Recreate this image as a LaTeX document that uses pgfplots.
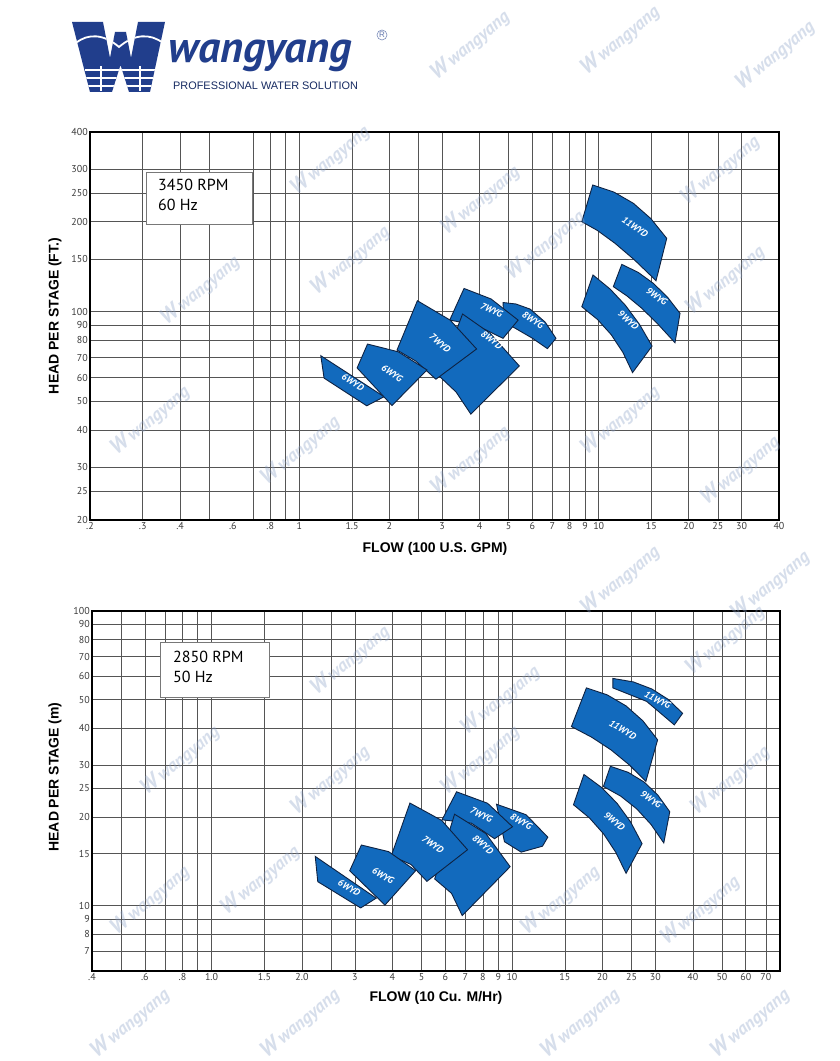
\documentclass[border=0pt]{standalone}
\usepackage{fontspec}
\setmainfont{PT Sans}
\newfontfamily\arialf{Liberation Sans}
\usepackage{pgfplots}
\pgfplotsset{compat=1.18}

\definecolor{wyblue}{RGB}{18,106,189}
\definecolor{wyedge}{RGB}{14,34,66}
\definecolor{navy}{RGB}{33,62,140}
\definecolor{gridc}{RGB}{85,85,85}
\definecolor{tickc}{RGB}{60,60,60}
\definecolor{wmark}{RGB}{140,162,200}
\definecolor{boxc}{RGB}{120,120,120}

\tikzset{
  zone/.style={fill=wyblue, draw=wyedge, line width=0.9pt},
  lbl/.style={text=white, font=\bfseries\itshape\fontsize{9.5}{10}\selectfont, inner sep=0pt},
  ttl/.style={font=\arialf\bfseries\fontsize{14}{14}\selectfont, inner sep=0pt},
}

\begin{document}
\begin{tikzpicture}[x=1pt,y=1pt]
\path[use as bounding box, fill=white] (0,0) rectangle (840,1061);
\clip (0,0) rectangle (840,1061);

% ---------- logo ----------
\begin{scope}
\path[fill=navy] (72,1039) -- (103,1039) -- (110,1003) -- (115,1029) -- (126,1029)
  -- (131,1003) -- (138,1039) -- (165,1039) -- (150,969) -- (129,969) -- (120.5,996)
  -- (112,969) -- (90,969) -- cycle;
\clip (72,1039) -- (103,1039) -- (110,1003) -- (115,1029) -- (126,1029)
  -- (131,1003) -- (138,1039) -- (165,1039) -- (150,969) -- (129,969) -- (120.5,996)
  -- (112,969) -- (90,969) -- cycle;
\draw[white, line width=1.8pt] (76,1018) .. controls (88,1028) and (104,1027) .. (119,1014)
  .. controls (134,1027) and (150,1028) .. (163,1018);
\foreach \yy in {991,983,975} \draw[white, line width=1.3pt] (85,\yy) -- (158,\yy);
\draw[white, line width=1.3pt] (101,995) -- (101,970);
\draw[white, line width=1.3pt] (140,995) -- (140,970);
\end{scope}
\node[anchor=base west, inner sep=0pt, text=navy,
  font=\bfseries\itshape\fontsize{44}{44}\selectfont] at (168,998) {wangyang};
\node[anchor=base west, inner sep=0pt, text=navy!70!black,
  font=\arialf\fontsize{10.9}{11}\selectfont] at (173,971) {PROFESSIONAL WATER SOLUTION};
\draw[navy!60, line width=0.6pt] (382,1026) circle (5);
\node[text=navy!70, font=\arialf\fontsize{8}{8}\selectfont, inner sep=0pt] at (382,1026) {R};

% ---------- 3450 RPM ----------
\begin{axis}[at={(90pt,541pt)}, anchor=south west, scale only axis,
  width=689pt, height=388pt, xmode=log, ymode=log, clip=false,
  axis line style={black, line width=1.1pt},
  xmajorgrids=true, ymajorgrids=true, xminorgrids=true,
  major grid style={gridc, line width=0.7pt},
  minor grid style={gridc, line width=0.7pt},
  tick style={draw=none},
  tick label style={font=\fontsize{10}{12}\selectfont, text=tickc},
  xticklabel style={inner sep=2pt}, yticklabel style={inner sep=2pt},
  xmin=0.2, xmax=40, ymin=20, ymax=400,
  xtick={0.2,0.3,0.4,0.8,1,1.5,2,3,4,5,6,7,8,9,10,15,20,25,30,40},
  xticklabels={.2,.3,.4,.8,1,1.5,2,3,4,5,6,7,8,9,10,15,20,25,30,40},
  minor xtick={0.5,0.7,0.9,2.5},
  ytick={20,25,30,40,50,60,70,80,90,100,150,200,250,300,400},
  yticklabels={20,25,30,40,50,60,70,80,90,100,150,200,250,300,400},
]
\addplot[zone] coordinates {(4.79,107.2) (5.29,106.0) (5.90,101.9) (6.62,92.2) (7.20,81.3) (6.74,75.1) (5.99,81.5) (5.25,88.0) (4.83,92.3)} -- cycle;
\addplot[zone] coordinates {(3.55,119.5) (4.37,110.2) (5.38,93.6) (4.79,81.3) (3.89,90.1) (3.18,93.6)} -- cycle;
\addplot[zone] coordinates {(3.51,98.1) (4.34,84.5) (5.43,65.7) (3.74,45.3) (3.34,53.7) (2.93,60.8)} -- cycle;
\addplot[zone] coordinates {(2.48,108.7) (3.19,93.6) (3.91,74.9) (2.86,59.3) (2.45,68.2) (2.12,74.3)} -- cycle;
\addplot[zone] coordinates {(1.18,71.1) (1.21,59.8) (1.68,48.3) (1.92,51.8)} -- cycle;
\addplot[zone] coordinates {(1.69,77.8) (2.14,73.3) (2.67,63.7) (2.04,48.4) (1.56,64.7)} -- cycle;
\addplot[zone] coordinates {(9.55,265.7) (11.24,251.5) (13.05,230.7) (14.94,204.8) (16.87,176.0)
  (15.54,126.9) (13.17,148.9) (11.34,169.3) (9.90,187.0) (8.78,200.1)} -- cycle;
\addplot[zone] coordinates {(11.94,143.9) (13.55,135.3) (15.22,124.3) (16.95,111.9) (18.69,98.6)
  (17.98,78.6) (15.74,90.9) (13.92,102.6) (12.41,112.9) (11.19,121.2)} -- cycle;
\addplot[zone] coordinates {(9.57,132.6) (10.91,119.0) (12.29,104.8) (13.69,90.5) (15.07,76.6)
  (12.97,62.4) (12.04,73.0) (11.00,83.7) (9.90,94.1) (8.78,103.8)} -- cycle;
\node[lbl, rotate=-32] at (axis cs:1.51,58.0) {6WYD};
\node[lbl, rotate=-35] at (axis cs:2.04,62.2) {6WYG};
\node[lbl, rotate=-40] at (axis cs:2.95,78.4) {7WYD};
\node[lbl, rotate=-38] at (axis cs:4.39,80.3) {8WYD};
\node[lbl, rotate=-25] at (axis cs:4.39,101.2) {7WYG};
\node[lbl, rotate=-32] at (axis cs:6.03,93.6) {8WYG};
\node[lbl, rotate=-35] at (axis cs:13.22,192.5) {11WYD};
\node[lbl, rotate=-35] at (axis cs:15.62,112.1) {9WYG};
\node[lbl, rotate=-42] at (axis cs:12.56,93.6) {9WYD};
% tick label with no grid line in the original
\node[anchor=north, inner sep=2pt, text=tickc, font=\fontsize{10}{12}\selectfont] at (axis cs:0.6,20) {.6};
\end{axis}

% ---------- 2850 RPM ----------
\begin{axis}[at={(92pt,90pt)}, anchor=south west, scale only axis,
  width=688pt, height=360pt, xmode=log, ymode=log,
  axis line style={black, line width=1.1pt},
  xmajorgrids=true, ymajorgrids=true, xminorgrids=true,
  major grid style={gridc, line width=0.7pt},
  minor grid style={gridc, line width=0.7pt},
  tick style={draw=none},
  tick label style={font=\fontsize{10}{12}\selectfont, text=tickc},
  xticklabel style={inner sep=2pt}, yticklabel style={inner sep=2pt},
  xmin=0.4, xmax=78, ymin=6, ymax=100,
  xtick={0.4,0.6,0.8,1,1.5,2,3,4,5,6,7,8,9,10,15,20,25,30,40,50,60,70},
  xticklabels={.4,.6,.8,1.0,1.5,2.0,3,4,5,6,7,8,9,10,15,20,25,30,40,50,60,70},
  minor xtick={0.5,0.7,0.9,2.5},
  ytick={7,8,9,10,15,20,25,30,40,50,60,70,80,90,100},
  yticklabels={7,8,9,10,15,20,25,30,40,50,60,70,80,90,100},
]
\addplot[zone] coordinates {(8.88,22.09) (11.14,20.35) (13.16,17.07) (12.63,15.91) (10.73,15.19) (9.44,16.48)} -- cycle;
\addplot[zone] coordinates {(6.54,24.34) (8.29,22.26) (10.04,18.53) (8.75,16.87) (7.33,19.05) (5.85,19.56)} -- cycle;
\addplot[zone] coordinates {(6.44,20.43) (8.18,17.57) (9.86,13.56) (6.83,9.25) (6.29,11.01) (5.53,12.32)} -- cycle;
\addplot[zone] coordinates {(4.574,22.29) (5.838,19.46) (7.114,15.48) (5.210,12.09) (4.616,13.78) (3.967,14.78)} -- cycle;
\addplot[zone] coordinates {(2.214,14.69) (2.257,12.06) (3.136,9.82) (3.532,10.60)} -- cycle;
\addplot[zone] coordinates {(3.153,16.06) (3.886,15.25) (4.778,13.14) (3.777,10.04) (2.883,13.14)} -- cycle;
\addplot[zone] coordinates {(17.69,54.83) (20.75,51.92) (23.96,47.64) (27.27,42.39) (30.53,36.54)
  (27.90,26.39) (24.55,30.06) (21.38,33.75) (18.45,37.26) (15.77,40.53)} -- cycle;
\addplot[zone] coordinates {(21.67,59.04) (25.35,57.45) (29.18,54.39) (33.11,50.12) (36.98,44.95)
  (34.7,41.07) (28.07,49.34) (21.67,54.83)} -- cycle;
\addplot[zone] coordinates {(21.26,29.71) (24.38,28.33) (27.53,26.27) (30.6,23.71) (33.51,20.83)
  (32.01,16.32) (29.01,18.87) (25.99,21.32) (23.02,23.52) (20.15,25.37)} -- cycle;
\addplot[zone] coordinates {(17.36,27.87) (19.84,25.21) (22.35,22.28) (24.81,19.24) (27.1,16.23)
  (23.97,12.87) (22.17,15.15) (20.2,17.5) (18.13,19.82) (16.02,22.0)} -- cycle;
\node[lbl, rotate=-30] at (axis cs:2.87,11.48) {6WYD};
\node[lbl, rotate=-30] at (axis cs:3.72,12.64) {6WYG};
\node[lbl, rotate=-35] at (axis cs:5.45,16.1) {7WYD};
\node[lbl, rotate=-40] at (axis cs:8.0,16.1) {8WYD};
\node[lbl, rotate=-25] at (axis cs:7.90,20.35) {7WYG};
\node[lbl, rotate=-30] at (axis cs:10.73,19.31) {8WYG};
\node[lbl, rotate=-28] at (axis cs:30.53,49.93) {11WYG};
\node[lbl, rotate=-30] at (axis cs:23.36,39.52) {11WYD};
\node[lbl, rotate=-35] at (axis cs:29.03,22.88) {9WYG};
\node[lbl, rotate=-40] at (axis cs:21.92,19.31) {9WYD};
\end{axis}

% ---------- titles and boxes ----------
\node[ttl, rotate=90] at (55,745) {HEAD PER STAGE (FT.)};
\node[ttl] at (435,512) {FLOW (100 U.S. GPM)};
\node[ttl, rotate=90] at (55,284) {HEAD PER STAGE (m)};
\node[ttl] at (436,63) {FLOW (10 Cu. M/Hr)};

\draw[boxc, fill=white, line width=0.8pt] (146,889) rectangle (252,837);
\node[anchor=west, align=left, inner sep=0pt, font=\fontsize{16}{20}\selectfont] at (158,866) {3450 RPM\\60 Hz};
\draw[boxc, fill=white, line width=0.8pt] (160,419) rectangle (269,364);
\node[anchor=west, align=left, inner sep=0pt, font=\fontsize{16}{20}\selectfont] at (173,394) {2850 RPM\\50 Hz};

% ---------- watermark (page positions, kept clear of tick labels) ----------
\foreach \xx/\yy in {470/1016, 620/1021, 775/1006,
    330/901, 480/861, 720/891, 200/771, 350/801, 545/816, 725/781,
    150/641, 300/611, 470/601, 620/641, 740/591,
    620/481, 770/476,
    350/401, 500/361, 725/421, 180/301, 330/281, 480/301, 730/281,
    150/161, 260/181, 560/161, 700/151,
    130/38, 300/38, 580/38, 750/38}{
  \node[rotate=40, text=wmark, opacity=0.35, inner sep=0pt,
    font=\bfseries\itshape\fontsize{18}{18}\selectfont] at (\xx,\yy)
    {{\fontsize{22}{22}\selectfont W}\,wangyang};
}
\end{tikzpicture}
\end{document}
